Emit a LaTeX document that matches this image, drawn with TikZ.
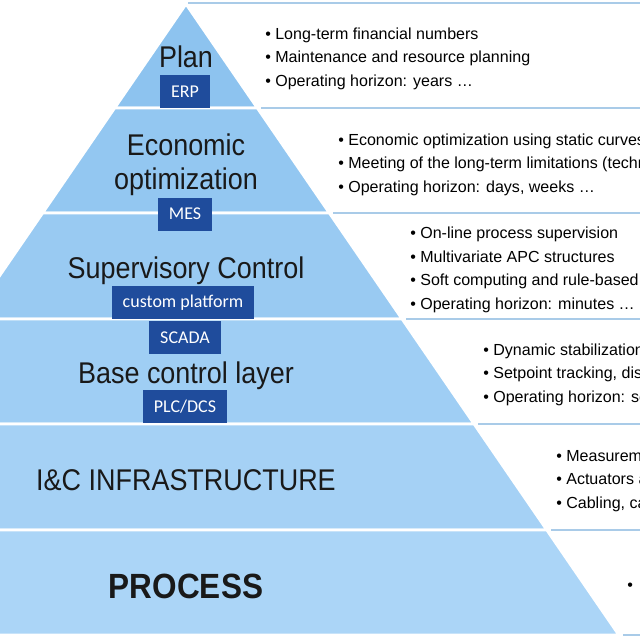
\documentclass[tikz,border=0pt]{standalone}
\usepackage{fontspec}
\setmainfont{Liberation Sans}
\newfontfamily\layerfont{Liberation Sans}[FakeStretch=0.9]
\newfontfamily\tagfont{Carlito}
\definecolor{pyrtop}{HTML}{8DC3EF}
\definecolor{pyrbot}{HTML}{ABD5F7}
\definecolor{tagblue}{HTML}{1F4C9C}
\definecolor{rowline}{HTML}{A9CBE8}

\begin{document}
\begin{tikzpicture}[
    x=0.025cm, y=-0.025cm,
    pyrlayer/.style={draw=white, line width=2pt, line join=round},
    layertitle/.style={inner sep=0pt, anchor=base, align=center, text=black!90, font=\layerfont\fontsize{21.3pt}{23.5pt}\selectfont},
    tag/.style={rectangle, fill=tagblue, text=white, inner xsep=0.27cm, inner ysep=0pt, minimum height=0.825cm, font=\tagfont\fontsize{12.8pt}{14pt}\selectfont},
    notes/.style={inner sep=0pt, anchor=base west, align=left, font=\fontsize{11.4pt}{16.7pt}\selectfont},
    rowline/.style={draw=rowline, line width=1.4pt}
]
    \useasboundingbox (0,0) rectangle (640,640);
    \clip (0,0) rectangle (640,640);

    % Pyramid layers
    \foreach \ya/\yb/\mix in {4/108/100, 108/213/80, 213/319/60, 319/424/40, 424/530/20, 530/635/0}
        \filldraw[pyrlayer, fill=pyrtop!\mix!pyrbot] ({186-0.686*(\ya-4)},\ya) -- ({186+0.686*(\ya-4)},\ya) -- ({186+0.686*(\yb-4)},\yb) -- ({186-0.686*(\yb-4)},\yb) -- cycle;

    % Row lines
    \draw[rowline] (188,3) -- (640,3);
    \foreach \y in {108,213,319,424,530,635}
        \draw[rowline] ({190+0.686*(\y-4)},\y) -- (640,\y);

    % Layer titles (base = last line)
    \node[layertitle] (plan) at (186,67) {Plan};
    \node[layertitle, font=\layerfont\fontsize{21.3pt}{23.9pt}\selectfont] (econ) at (186,189) {Economic\\optimization};
    \node[layertitle] (superv) at (186,278) {Supervisory Control};
    \node[layertitle] (base) at (186,383) {Base control layer};
    \node[layertitle] (infra) at (186,490) {I\&C INFRASTRUCTURE};
    \node[layertitle, font=\layerfont\bfseries\fontsize{24.9pt}{28pt}\selectfont] (process) at (186,598) {PROCESS};

    % Platforms
    \node[tag] (erp) at (185,91.5) {ERP};
    \node[tag] (mes) at (185,214) {MES};
    \node[tag] (custom) at (183,302.5) {custom platform};
    \node[tag] (scada) at (185,337.5) {SCADA};
    \node[tag] (plc) at (185,406.5) {PLC/DCS};

    % Notes (base = last line)
    \node[notes] (plannotes) at (265,86) {\textbullet\ Long-term financial numbers\\\textbullet\ Maintenance and resource planning\\\textbullet\ Operating horizon: years …};
    \node[notes] (econnotes) at (338,192) {\textbullet\ Economic optimization using static curves\\\textbullet\ Meeting of the long-term limitations (techn\\\textbullet\ Operating horizon: days, weeks …};
    \node[notes] (supervnotes) at (410,309) {\textbullet\ On-line process supervision\\\textbullet\ Multivariate APC structures\\\textbullet\ Soft computing and rule-based\\\textbullet\ Operating horizon: minutes …};
    \node[notes] (basenotes) at (483,402) {\textbullet\ Dynamic stabilization\\\textbullet\ Setpoint tracking, dis\\\textbullet\ Operating horizon: se};
    \node[notes] (infranotes) at (556,508) {\textbullet\ Measurem\\\textbullet\ Actuators a\\\textbullet\ Cabling, ca};
    \node[notes] (processnotes) at (627,590) {\textbullet};

\end{tikzpicture}
\end{document}
